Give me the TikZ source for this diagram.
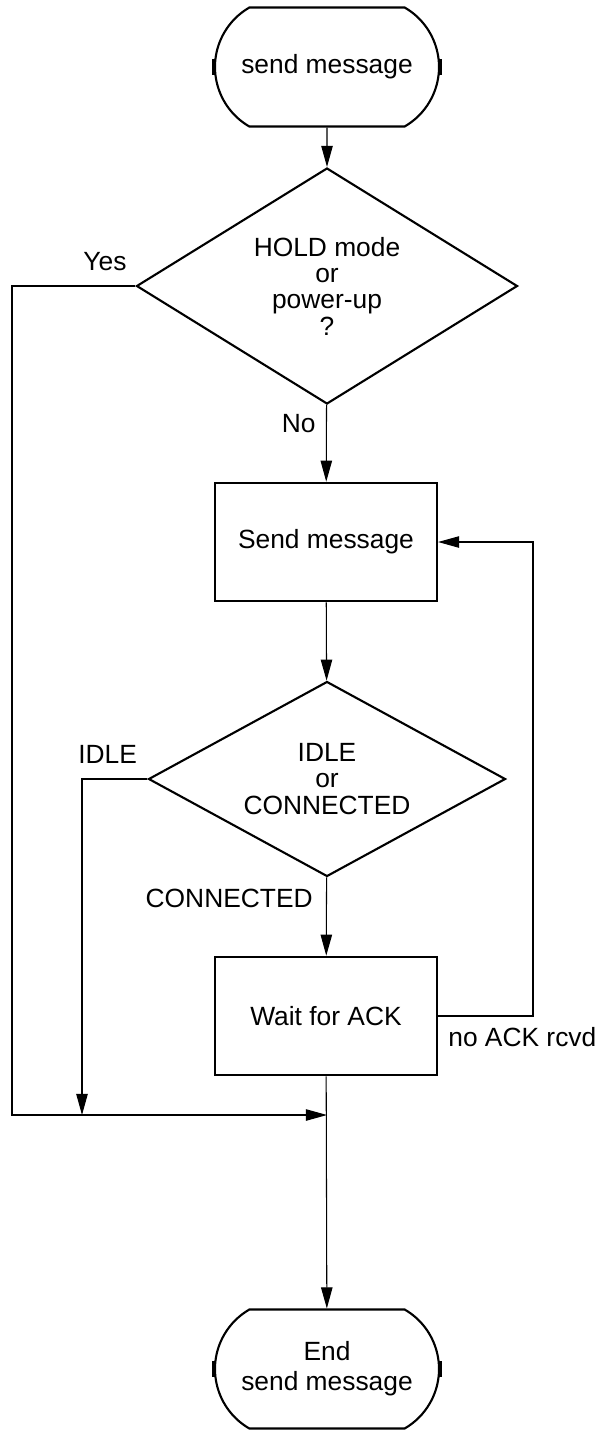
\documentclass[tikz,border=0pt]{standalone}
\usepackage{fontspec}
\setmainfont{Liberation Sans}
\usetikzlibrary{arrows.meta,shapes.geometric,shapes.misc}

\begin{document}
\begin{tikzpicture}[x=0.2mm,y=-0.2mm,
	>={Triangle[length=12pt,width=6.5pt]},
	txt/.style={font=\fontsize{15}{15}\selectfont, align=center},
	term/.style={txt, draw, line width=1.2pt, rounded rectangle, rounded rectangle arc length=120, minimum width=44.8mm, minimum height=23.8mm, inner sep=0pt},
	proc/.style={txt, draw, line width=1.2pt, rectangle, minimum width=44.4mm, minimum height=23.7mm},
	test/.style={txt, draw, line width=1.2pt, diamond, inner sep=0pt},
	lbl/.style={txt, inner sep=0pt},
	link/.style={line width=0.6pt},
	tick/.style={line width=2pt}]
\useasboundingbox (0,0) rectangle (599,1430);
	% the boxes
	\node[term] (start) at (327,67) {send message};
	\node[test, aspect=1.6, minimum width=76.2mm, minimum height=47.2mm] (hold) at (327,286) {HOLD mode\\or\\power-up\\?};
	\node[proc] (send) at (326,542) {Send message};
	\node[test, aspect=1.8, minimum width=71.4mm, minimum height=39mm] (conn) at (327,779) {IDLE\\or\\CONNECTED};
	\node[proc] (wait) at (326,1016) {Wait for ACK};
	\node[term] (stop) at (327,1369) {End\\[2pt]send message};
	% little marks on the ends
	\draw[tick] (start.west) ++(0,-8) -- ++(0,16);
	\draw[tick] (start.east) ++(0,-8) -- ++(0,16);
	\draw[tick] (stop.west) ++(0,-8) -- ++(0,16);
	\draw[tick] (stop.east) ++(0,-8) -- ++(0,16);
	% corners of the wires
	\coordinate (yesA) at (12,286);
	\coordinate (yesB) at (12,1115);
	\coordinate (merge) at (327,1115);
	\coordinate (idleA) at (82,779);
	\coordinate (idleB) at (82,1115);
	\coordinate (backA) at (533,1016);
	\coordinate (backB) at (533,542);
	% main line
	\draw[link,->] (start) -- (hold);
	\draw[link,->] (hold) -- (send);
	\draw[link,->] (send) -- (conn);
	\draw[link,->] (conn) -- (wait);
	\draw[link,->] (wait) -- (stop);
	% side lines
	\draw[link,->] (hold.west) -- (yesA) -- (yesB) -- (merge);
	\draw[link,->] (conn.west) -- (idleA) -- (idleB);
	\draw[link,->] (wait.east |- backA) -- (backA) -- (backB) -- (send.east);
	% labels
	\node[lbl, anchor=base] (yes) at (105,270) {Yes};
	\node[lbl, anchor=base east] (no) at (316,432) {No};
	\node[lbl, anchor=base west] (idle) at (78,763) {IDLE};
	\node[lbl, anchor=base east] (connected) at (313,907) {CONNECTED};
	\node[lbl, anchor=base west] (noack) at (448,1046) {no ACK rcvd};
\end{tikzpicture}
\end{document}
